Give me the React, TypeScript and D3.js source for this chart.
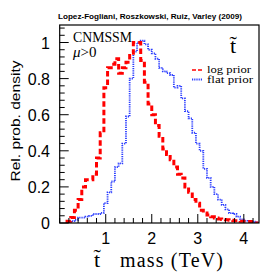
import React from "react";
import * as d3 from "d3";

// Histogram bins (TeV): left edge of first bin and bin width
const binStart = 0.16;
const binWidth = 0.08;

// Log prior (red dashed) relative probability density per bin
const logPrior = [
  0.01, 0.03, 0.07, 0.13, 0.2, 0.24, 0.24, 0.27, 0.36, 0.5,
  0.75, 0.86, 0.88, 0.91, 0.83, 0.86, 0.89, 0.94, 1.0, 1.0,
  0.9, 0.78, 0.66, 0.6, 0.54, 0.48, 0.41, 0.38, 0.35, 0.31,
  0.27, 0.25, 0.2, 0.17, 0.13, 0.11, 0.07, 0.055, 0.045, 0.035,
  0.028, 0.022, 0.02, 0.018, 0.015, 0.012, 0.012, 0.01, 0.01, 0.008,
  0.005, 0.0,
];

// Flat prior (blue dotted)
const flatPrior = [
  0.003, 0.01, 0.017, 0.03, 0.03, 0.035, 0.04, 0.05, 0.05, 0.056,
  0.11, 0.17, 0.23, 0.31, 0.33, 0.44, 0.59, 0.8, 0.95, 1.0,
  1.01, 0.99, 0.96, 0.94, 0.91, 0.86, 0.84, 0.83, 0.82, 0.75,
  0.76, 0.69, 0.62, 0.58, 0.5, 0.44, 0.4, 0.3, 0.25, 0.2,
  0.16, 0.13, 0.1, 0.075, 0.055, 0.05, 0.035, 0.02, 0.012, 0.01,
  0.008, 0.005,
];

const xMajorTicks = [1, 2, 3, 4];
const yMajorTicks = [0, 0.2, 0.4, 0.6, 0.8, 1];
const yTickLabels = ["0", "0.2", "0.4", "0.6", "0.8", "1"];
const xMinorStep = 0.2;
const yMinorStep = 0.04;

const credit = "Lopez-Fogliani, Roszkowski, Ruiz, Varley (2009)";
const model = "CNMSSM";
const muSymbol = "\u03bc";
const muCond = ">0";
const particle = "t\u0303";
const legendLabels = ["log prior", "flat prior"];
const yTitle = "Rel. prob. density";
const xTitle = "mass (TeV)";

const W = 274;
const H = 274;
const left = 59.7;
const right = 259;
const top = 25;
const bottom = 223;

export default function App() {
  const x = d3.scaleLinear().domain([0, 4.33]).range([left, right]);
  const y = d3.scaleLinear().domain([0, 1.097]).range([bottom, top]);

  const toPoints = (vals: number[]) => {
    const pts: [number, number][] = [];
    pts.push([binStart, 0]);
    vals.forEach((v, i) => pts.push([binStart + i * binWidth, v]));
    pts.push([binStart + vals.length * binWidth, 0]);
    return pts;
  };
  const line = d3
    .line<[number, number]>()
    .x((d) => x(d[0]))
    .y((d) => y(d[1]))
    .curve(d3.curveStepAfter);

  const xMinor = d3.range(0, 4.33 + 1e-9, xMinorStep).filter(
    (v) => !xMajorTicks.some((m) => Math.abs(m - v) < 1e-6)
  );
  const yMinor = d3.range(0, 1.097, yMinorStep).filter(
    (v) => !yMajorTicks.some((m) => Math.abs(m - v) < 1e-6)
  );

  const sans = "'Liberation Sans', Arial, sans-serif";
  const serif = "'Liberation Serif', 'Times New Roman', serif";

  return (
    <svg
      width={W}
      height={H}
      style={{ position: "absolute", left: 0, top: 0, background: "#fff" }}
    >
      <defs>
        <clipPath id="plot">
          <rect x={left} y={top} width={right - left} height={bottom - top} />
        </clipPath>
      </defs>
      <rect x={0} y={0} width={W} height={H} fill="#fff" />

      <g clipPath="url(#plot)">
        <path
          d={line(toPoints(flatPrior)) || ""}
          fill="none"
          stroke="#2a3cff"
          strokeWidth={1.8}
          strokeDasharray="1.2,1"
        />
        <path
          d={line(toPoints(logPrior)) || ""}
          fill="none"
          stroke="#ff0000"
          strokeWidth={3}
          strokeDasharray="5.5,3"
        />
      </g>

      {/* ticks */}
      {xMajorTicks.map((t) => (
        <line key={"xm" + t} x1={x(t)} x2={x(t)} y1={bottom} y2={bottom - 9} stroke="#000" />
      ))}
      {xMinor.map((t) => (
        <line key={"xn" + t} x1={x(t)} x2={x(t)} y1={bottom} y2={bottom - 5} stroke="#000" />
      ))}
      {yMajorTicks.map((t) => (
        <line key={"ym" + t} x1={left} x2={left + 9} y1={y(t)} y2={y(t)} stroke="#000" />
      ))}
      {yMinor.map((t) => (
        <line key={"yn" + t} x1={left} x2={left + 5} y1={y(t)} y2={y(t)} stroke="#000" />
      ))}

      <rect
        x={left}
        y={top}
        width={right - left}
        height={bottom - top}
        fill="none"
        stroke="#000"
        strokeWidth={1.2}
      />

      {/* tick labels */}
      {xMajorTicks.map((t) => (
        <text key={"xl" + t} x={x(t)} y={243.5} fontSize={16} fontFamily={sans} textAnchor="middle">
          {t}
        </text>
      ))}
      {yMajorTicks.map((t, i) => (
        <text key={"yl" + t} x={50} y={y(t) + 6} fontSize={16} fontFamily={sans} textAnchor="end">
          {yTickLabels[i]}
        </text>
      ))}

      {/* axis titles */}
      <text
        transform={`translate(20,121) rotate(-90)`}
        fontSize={12}
        fontFamily={sans}
        textAnchor="middle"
        textLength={121}
        lengthAdjust="spacingAndGlyphs"
      >
        {yTitle}
      </text>
      <text x={97} y={266.5} fontSize={22} fontFamily={serif} textAnchor="middle">
        {particle}
      </text>
      <text x={120} y={266.5} fontSize={20} fontFamily={serif} textLength={103} lengthAdjust="spacing">
        {xTitle}
      </text>

      {/* credit */}
      <text
        x={58}
        y={19}
        fontSize={8}
        fontWeight="bold"
        fontFamily={sans}
        textLength={184}
        lengthAdjust="spacingAndGlyphs"
      >
        {credit}
      </text>

      {/* labels in plot */}
      <text x={73} y={41.7} fontSize={14.5} fontFamily={serif} textLength={59} lengthAdjust="spacingAndGlyphs">
        {model}
      </text>
      <text x={73} y={56.7} fontSize={15} fontFamily={serif}>
        <tspan fontStyle="italic">{muSymbol}</tspan>
        <tspan>{muCond}</tspan>
      </text>

      <text x={233} y={53} fontSize={22} fontFamily={serif} textAnchor="middle">
        {particle}
      </text>

      {/* legend */}
      <line x1={192} x2={203} y1={70} y2={70} stroke="#ff0000" strokeWidth={1.3} strokeDasharray="4,2" />
      <line x1={192} x2={203} y1={79.5} y2={79.5} stroke="#2a3cff" strokeWidth={1.8} strokeDasharray="1.2,1" />
      <text x={207} y={72.5} fontSize={11} fontFamily={serif} textLength={44} lengthAdjust="spacingAndGlyphs">
        {legendLabels[0]}
      </text>
      <text x={207} y={83} fontSize={11} fontFamily={serif} textLength={46} lengthAdjust="spacingAndGlyphs">
        {legendLabels[1]}
      </text>
    </svg>
  );
}
